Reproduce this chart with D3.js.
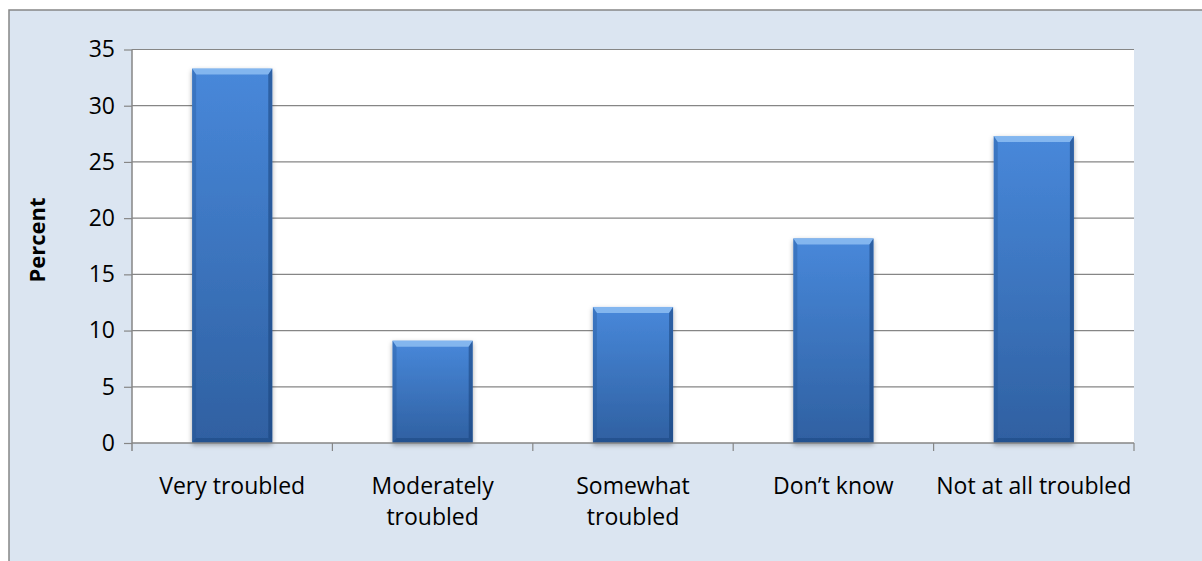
<!DOCTYPE html>
<html>
<head>
<meta charset="utf-8">
<script src="https://cdn.jsdelivr.net/npm/d3@7"></script>
<style>
  html, body { margin: 0; padding: 0; background: #ffffff; }
  svg { display: block; }
  text { font-family: "Open Sans", "Noto Sans", sans-serif; fill: #000; }
</style>
</head>
<body>
<script>
// chart data
var categories = ["Very troubled", "Moderately\ntroubled", "Somewhat\ntroubled", "Don\u2019t know", "Not at all troubled"];
var percents = [33.3, 9.1, 12.1, 18.2, 27.3];
var yTicks = [0, 5, 10, 15, 20, 25, 30, 35];
var yTitle = "Percent";

var width = 1202, height = 561;
var margin = { top: 49.5, right: 68, bottom: 118, left: 132 };
var plotW = width - margin.left - margin.right;
var plotH = height - margin.top - margin.bottom;

var svg = d3.select('body').append('svg').attr('width', width).attr('height', height);

var defs = svg.append('defs');

var grad = defs.append('linearGradient').attr('id', 'barGrad')
    .attr('x1', 0).attr('y1', 0).attr('x2', 0).attr('y2', 1);
grad.append('stop').attr('offset', '0%').attr('stop-color', '#4888da');
grad.append('stop').attr('offset', '100%').attr('stop-color', '#2f60a1');

var shadow = defs.append('filter').attr('id', 'shadow')
    .attr('x', '-20%').attr('y', '-10%').attr('width', '140%').attr('height', '130%');
shadow.append('feDropShadow').attr('dx', 0).attr('dy', 2).attr('stdDeviation', 2.5)
    .attr('flood-color', '#000').attr('flood-opacity', 0.35);

// outer chart area
svg.append('rect')
    .attr('x', 9).attr('y', 10)
    .attr('width', width + 20).attr('height', height + 20)
    .attr('fill', '#dbe5f1')
    .attr('stroke', '#868686').attr('stroke-width', 1.5);

var g = svg.append('g').attr('transform', 'translate(' + margin.left + ',' + margin.top + ')');

// plot area
g.append('rect').attr('width', plotW).attr('height', plotH).attr('fill', '#ffffff');

var x = d3.scaleBand()
    .domain(categories)
    .range([0, plotW])
    .paddingInner(0.6)
    .paddingOuter(0.3);

var xEdge = d3.scaleLinear().domain([0, categories.length]).range([0, plotW]);

var y = d3.scaleLinear().domain([0, 35]).range([plotH, 0]);

// gridlines
g.selectAll('.grid')
    .data(yTicks.filter(function (d) { return d > 0; }))
    .enter()
    .append('line')
    .attr('x1', 0).attr('x2', plotW)
    .attr('y1', function (d) { return y(d); })
    .attr('y2', function (d) { return y(d); })
    .attr('stroke', '#868686').attr('stroke-width', 1.2);

// y axis
var yAxis = g.append('g').call(
    d3.axisLeft(y).tickValues(yTicks).tickSize(8).tickPadding(9)
);
yAxis.select('.domain').remove();
yAxis.selectAll('line').attr('stroke', '#868686').attr('stroke-width', 1.2);
yAxis.selectAll('text').style('font-size', '23px').style('font-family', '"Open Sans", sans-serif').attr('fill', '#000');

g.append('line')
    .attr('x1', 0).attr('x2', 0)
    .attr('y1', 0).attr('y2', plotH + 8)
    .attr('stroke', '#868686').attr('stroke-width', 1.5);

// bars
var bars = g.selectAll('.bar')
    .data(percents)
    .enter()
    .append('g')
    .attr('class', 'bar');

bars.append('rect')
    .attr('x', function (d, i) { return x(categories[i]); })
    .attr('y', function (d) { return y(d); })
    .attr('width', x.bandwidth())
    .attr('height', function (d) { return plotH - y(d); })
    .attr('fill', 'url(#barGrad)')
    .attr('filter', 'url(#shadow)');

// bevel edges
var bt = 6, bs = 4, bb = 5;
function bevel(fill, opacity, pts) {
    bars.append('polygon')
        .attr('points', function (d, i) {
            var x0 = x(categories[i]), x1 = x0 + x.bandwidth();
            var y0 = y(d), y1 = plotH;
            return pts(x0, x1, y0, y1).map(function (p) { return p.join(','); }).join(' ');
        })
        .attr('fill', fill).attr('fill-opacity', opacity);
}
// top
bevel('#9ccaf8', 0.7, function (x0, x1, y0) {
    return [[x0, y0], [x1, y0], [x1 - bs, y0 + bt], [x0 + bs, y0 + bt]];
});
// left
bevel('#1f4f8f', 0.3, function (x0, x1, y0, y1) {
    return [[x0, y0], [x0 + bs, y0 + bt], [x0 + bs, y1 - bb], [x0, y1]];
});
// right
bevel('#17427a', 0.55, function (x0, x1, y0, y1) {
    return [[x1, y0], [x1 - bs, y0 + bt], [x1 - bs, y1 - bb], [x1, y1]];
});
// bottom
bevel('#17427a', 0.45, function (x0, x1, y0, y1) {
    return [[x0, y1], [x0 + bs, y1 - bb], [x1 - bs, y1 - bb], [x1, y1]];
});

// x axis line and boundary ticks
g.append('line')
    .attr('x1', 0).attr('x2', plotW)
    .attr('y1', plotH).attr('y2', plotH)
    .attr('stroke', '#868686').attr('stroke-width', 1.5);

g.selectAll('.xtick')
    .data(d3.range(1, categories.length + 1))
    .enter()
    .append('line')
    .attr('x1', function (d) { return xEdge(d); })
    .attr('x2', function (d) { return xEdge(d); })
    .attr('y1', plotH).attr('y2', plotH + 8)
    .attr('stroke', '#868686').attr('stroke-width', 1.2);

// category labels
var labels = g.selectAll('.xlabel')
    .data(categories)
    .enter()
    .append('text')
    .attr('text-anchor', 'middle')
    .style('font-size', '23px')
    .attr('transform', function (d) {
        return 'translate(' + (x(d) + x.bandwidth() / 2) + ',' + (plotH + 50.5) + ')';
    });

labels.selectAll('tspan')
    .data(function (d) { return d.split('\n'); })
    .enter()
    .append('tspan')
    .attr('x', 0)
    .attr('dy', function (d, i) { return i === 0 ? 0 : 31.5; })
    .text(function (d) { return d; });

// y axis title
svg.append('text')
    .attr('transform', 'translate(45,240) rotate(-90)')
    .attr('text-anchor', 'middle')
    .style('font-size', '22px')
    .style('font-weight', 'bold')
    .text(yTitle);
</script>
</body>
</html>
